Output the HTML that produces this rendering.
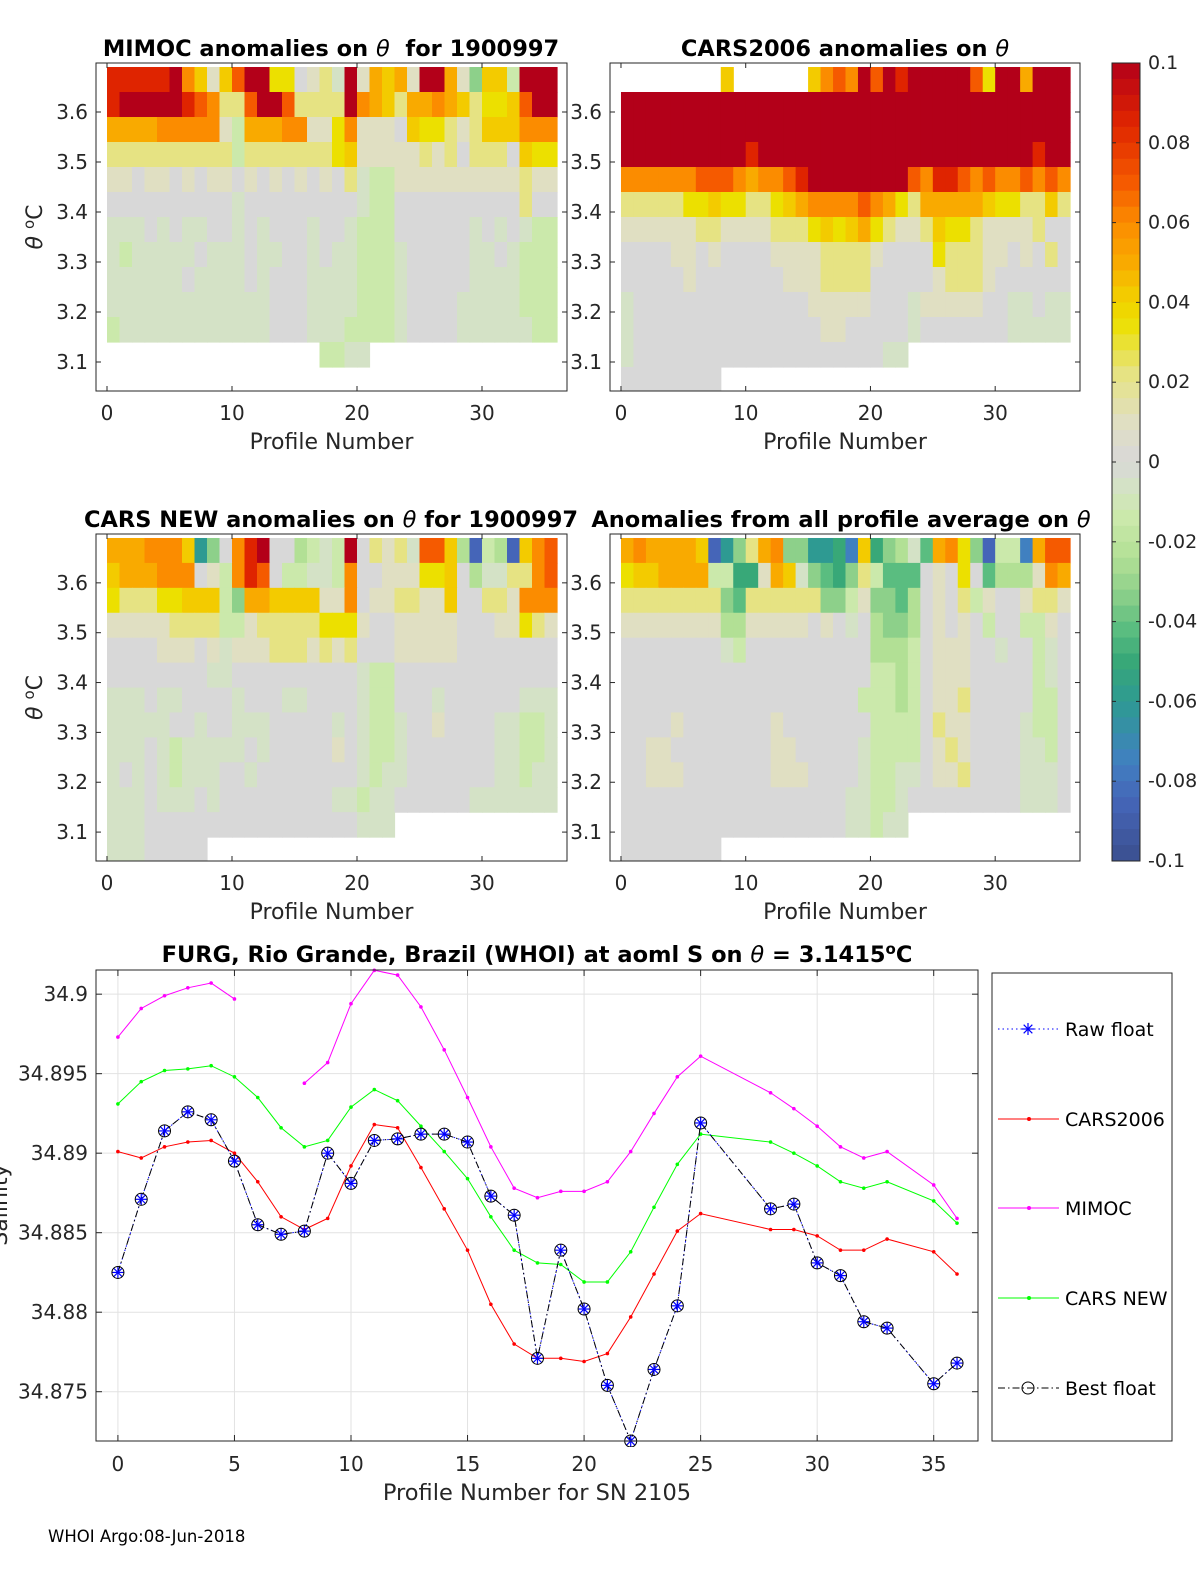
<!DOCTYPE html>
<html><head><meta charset="utf-8"><title>Float anomalies</title>
<style>
html,body{margin:0;padding:0;background:#fff;}
svg{display:block;font-family:"DejaVu Sans","Liberation Sans",sans-serif;}
</style></head>
<body>
<svg id="fig" xmlns="http://www.w3.org/2000/svg" width="1200" height="1575" viewBox="0 0 1200 1575">
<rect width="1200" height="1575" fill="#fff"/>
<g id="heat"></g>
<g id="bottom"></g>
<g id="cbar"></g>
<text x="48" y="1542" font-size="16.5">WHOI Argo:08-Jun-2018</text>
</svg>
<script>
// ---- level codes (anomaly value per letter) ----
const codeLetters = "ABCDEFGHIJKLMNOPQRS";
const codeValues = [0.1,0.085,0.07,0.06,0.05,0.042,0.035,0.022,0.01,0,-0.006,-0.014,-0.024,-0.033,-0.042,-0.05,-0.06,-0.075,-0.085];
// colormap stops
const cmapVals = [-0.1,-0.085,-0.075,-0.06,-0.05,-0.042,-0.033,-0.024,-0.014,-0.006,0,0.01,0.022,0.035,0.042,0.05,0.06,0.07,0.085,0.1];
const cmapCols = ["#3b4f8f","#4565b8","#4080c0","#2e9a92","#38a878","#5abd80","#8dd08a","#b2e095","#cbe9ab","#d4e2c6","#d8d8d8","#e0dfc2","#e6e383","#ece000","#f3cb00","#f9aa00","#fb8c00","#f55a00","#df2400","#b30019"];
const cbarTicks = [0.1,0.08,0.06,0.04,0.02,0,-0.02,-0.04,-0.06,-0.08,-0.1];
const cbarLabels = ["0.1","0.08","0.06","0.04","0.02","0","-0.02","-0.04","-0.06","-0.08","-0.1"];

// heatmap rows (top θ bin first, 36 profiles each; '.' = no data)
const mimocRows = [
"BBBBBADFIFCAAGGJIHKAIEFEIAAEINFFLAAA",
"BAAAAABCDHHCAACHHHHADEFHEEDEFHGGFCAA",
"EEEEDDDDDILEEEDDIIGDIIIJFGGHIHFFFDDD",
"HHHHHHHHHHLHHHHHHHGFIIIIIHIHJHHHJFGG",
"IIJIIJIJIIJIJIJIJIJHKLLIIIIIIIIIIHII",
"JJJJJJJJJJKJJJJJJJJJKLLJJJJJJJJJJHJJ",
"KKKJKJKKJJKJKJJJKJJKLLLJJJJJJKJKJKLL",
"KLKKKKKJKKKJKKJJKJKKLLLKJJJJJKKJKLLL",
"KKKKKKJKKKKJKJJJKKKKLLLKJJJJJKKKKLLL",
"KKKKKKKKKKKKKJJJKKKKLLLKJJJJKKKKKLLL",
"LKKKKKKKKKKKKJJJKKKLLLLKJJJJKKKKKKLL",
".................LLKK..............."
];
const cars2006Rows = [
"........F......FDCDACABAAAAACGAAEAAA",
"AAAAAAAAAAAAAAAAAAAAAAAAAAAAAAAAAAAA",
"AAAAAAAAAAAAAAAAAAAAAAAAAAAAAAAAAAAA",
"AAAAAAAAAABAAAAAAAAAAAAAAAAAAAAAABAA",
"DDDDDDCCCDEDDCBAAAAAAAACDBBCDCDDCDCD",
"HHHHHGGFGGHHGFEDDDDCDEGHEEEEEFGGHHFH",
"IIIIIIHHIIIIHHHGFGFEGHIIHFGGHIIIIHJJ",
"JJJJIIJIJJJJIIIIHHHHIJJJJGHHHIIJIJHJ",
"JJJJJIJJJJJJJIIIHHHHJJJJJIHHHIJJJJJJ",
"KJJJJJJJJJJJJJJIIIIIJJJKIIIIIJJKKJKK",
"KJJJJJJJJJJJJJJJIIJJJJJKJJJJJJJKKKKK",
"KJJJJJJJJJJJJJJJJJJJJKK.............",
"JJJJJJJJ............................"
];
const carsNewRows = [
"EEEDDDFQNJDBAJJMLKLAJHIHKCCFMSLMSFDC",
"FEEEDDDJILDBCJLLKKLDJJIIIGGFJMKKHHDC",
"GHHHGGFFFLNEEFFFFIIDJIIHHIIFJJHHIDDD",
"IIIIIHHHHLLIHHHHHGGGIJJIIIIIJJJIIGHI",
"JJJJIIIJIKIIIHHHIHIHJJJIIIIIJJJJJJJJ",
"JJJJJJJJKKJJJJJJJJJJKLLJJJJJJJJJJJJJ",
"KKKJKKJJJJKJJJKKJJJJKLLJJJKJJJJJJKKK",
"KKKKKJJKJJKKKJJJJJKJKLLKJJIJJJJKKLLK",
"KKKJKLKKKKKJKJJJJJIJKLLKJJJJJJJKKLLK",
"KJKJKLKKKJJKJJJJJJJJKLKKJJJJJJJKKLKK",
"KKKJKKKJKJJJJJJJJJKKLKKJJJJJJKKKKKKK",
"KKKJJJJJJJJJJJJJJJJJKKK.............",
"KKKJJJJJ............................"
];
const avgRows = [
"EDEEEEFSQNHEDNNQQPRFPNMKOEDGNSLLRECC",
"GFFEEEELLPPIEFKNOPNHLOOOJIJGJOMMMIDE",
"HHHHHHHHNOHHHHHHNNLINNOMJIJHLIJJIHHI",
"IIIIIIIIMMIIIIIJIJKJMNNMJIJIJLJJLLIJ",
"JJJJJJJJKLJJJJJJJJJJMMMLJIIIJJKJJLKJ",
"JJJJJJJJJJJJJJJJJJJJLLMLJIIIJJJJJLKJ",
"JJJJJJJJJJJJJJJJJJJLLLMLJIIHJJJJJLLJ",
"JJJJIJJJJJJJIJJJJJJJLLLLJHIIJJJJKLLJ",
"JJIIJJJJJJJJIIJJJJJKLLLLJIHIJJJJKKLJ",
"JJIIIJJJJJJJIIIJJJJKLLKKJIIHJJJJKKKJ",
"JJJJJJJJJJJJJJJJJJKKLLKJJJJJJJJJKKKJ",
"JJJJJJJJJJJJJJJJJJKKLKK.............",
"JJJJJJJJ............................"
];
const thetaTicks = [3.1,3.2,3.3,3.4,3.5,3.6];
const thetaTickLabels = ["3.1","3.2","3.3","3.4","3.5","3.6"];
const profTicks = [0,10,20,30];
const profTickLabels = ["0","10","20","30"];

// ---- bottom chart data ----
const profiles = [0,1,2,3,4,5,6,7,8,9,10,11,12,13,14,15,16,17,18,19,20,21,22,23,24,25,28,29,30,31,32,33,35,36];
const rawFloat = [34.8825,34.8871,34.8914,34.8926,34.8921,34.8895,34.8855,34.8849,34.8851,34.8900,34.8881,34.8908,34.8909,34.8912,34.8912,34.8907,34.8873,34.8861,34.8771,34.8839,34.8802,34.8754,34.8719,34.8764,34.8804,34.8919,34.8865,34.8868,34.8831,34.8823,34.8794,34.8790,34.8755,34.8768];
const bestFloat = [34.8825,34.8871,34.8914,34.8926,34.8921,34.8895,34.8855,34.8849,34.8851,34.8900,34.8881,34.8908,34.8909,34.8912,34.8912,34.8907,34.8873,34.8861,34.8771,34.8839,34.8802,34.8754,34.8719,34.8764,34.8804,34.8919,34.8865,34.8868,34.8831,34.8823,34.8794,34.8790,34.8755,34.8768];
const cars2006 = [34.8901,34.8897,34.8904,34.8907,34.8908,34.8900,34.8882,34.8860,34.8852,34.8859,34.8892,34.8918,34.8916,34.8891,34.8865,34.8839,34.8805,34.8780,34.8771,34.8771,34.8769,34.8774,34.8797,34.8824,34.8851,34.8862,34.8852,34.8852,34.8848,34.8839,34.8839,34.8846,34.8838,34.8824];
const mimoc = [34.8973,34.8991,34.8999,34.9004,34.9007,34.8997,null,null,34.8944,34.8957,34.8994,34.9015,34.9012,34.8992,34.8965,34.8935,34.8904,34.8878,34.8872,34.8876,34.8876,34.8882,34.8901,34.8925,34.8948,34.8961,34.8938,34.8928,34.8917,34.8904,34.8897,34.8901,34.8880,34.8859];
const carsNew = [34.8931,34.8945,34.8952,34.8953,34.8955,34.8948,34.8935,34.8916,34.8904,34.8908,34.8929,34.8940,34.8933,34.8917,34.8901,34.8884,34.8860,34.8839,34.8831,34.8830,34.8819,34.8819,34.8838,34.8866,34.8893,34.8912,34.8907,34.8900,34.8892,34.8882,34.8878,34.8882,34.8870,34.8856];
const salTicks = [34.875,34.88,34.885,34.89,34.895,34.9];
const salTickLabels = ["34.875","34.88","34.885","34.89","34.895","34.9"];
const profTicks2 = [0,5,10,15,20,25,30,35];
const profTickLabels2 = ["0","5","10","15","20","25","30","35"];

const NS = "http://www.w3.org/2000/svg";
function mk(tag, attrs, parent){const e=document.createElementNS(NS,tag);for(const k in attrs)e.setAttribute(k,attrs[k]);parent.appendChild(e);return e;}
function hex2rgb(h){return [parseInt(h.substr(1,2),16),parseInt(h.substr(3,2),16),parseInt(h.substr(5,2),16)];}
function cmap(v){
  if(v<=cmapVals[0])return cmapCols[0];
  for(let i=1;i<cmapVals.length;i++){
    if(v<=cmapVals[i]){const t=(v-cmapVals[i-1])/(cmapVals[i]-cmapVals[i-1]);const a=hex2rgb(cmapCols[i-1]),b=hex2rgb(cmapCols[i]);
      return "rgb("+a.map((c,j)=>Math.round(c+(b[j]-c)*t)).join(",")+")";}
  }
  return cmapCols[cmapCols.length-1];
}

const heat=document.getElementById('heat');
function heatPanel(name,rows,L,T,W,H,titleParts,titleX,yLabelSide){
  const g=mk('g',{},heat);
  
  
  const xmin=-0.88,xmax=36.8,ymin=3.042,ymax=3.698;
  const xs=p=>L+(p-xmin)/(xmax-xmin)*W;
  const ys=t=>T+(ymax-t)/(ymax-ymin)*H;
  const clip='clip-'+name;
  const cp=mk('clipPath',{id:clip},g);mk('rect',{x:L,y:T,width:W,height:H},cp);
  const cells=mk('g',{'clip-path':'url(#'+clip+')'},g);
  
  
  const thetaTop=3.69,step=0.05;
  rows.forEach((row,r)=>{
    for(let c=0;c<row.length;c++){
      const ch=row[c];if(ch==='.')continue;
      const v=codeValues[codeLetters.indexOf(ch)];
      const x0=xs(c),x1=xs(c+1),y0=ys(thetaTop-r*step),y1=ys(thetaTop-(r+1)*step);
      const rc=mk('rect',{x:x0.toFixed(2),y:y0.toFixed(2),width:(x1-x0+0.6).toFixed(2),height:(y1-y0+0.6).toFixed(2),fill:cmap(v)},cells);
      
      
    }
  });
  const fr=mk('rect',{x:L,y:T,width:W,height:H,fill:'none',stroke:'#262626','stroke-width':1},g);
  
  
  profTicks.forEach((p,i)=>{
    const x=xs(p);
    mk('line',{x1:x,y1:T+H,x2:x,y2:T+H-5,stroke:'#262626'},g);
    mk('line',{x1:x,y1:T,x2:x,y2:T+5,stroke:'#262626'},g);
    const t=mk('text',{x:x,y:T+H+29,'font-size':20,'text-anchor':'middle',fill:'#262626'},g);
    t.textContent=profTickLabels[i];
    
    
  });
  thetaTicks.forEach((v,i)=>{
    const y=ys(v);
    mk('line',{x1:L,y1:y,x2:L+5,y2:y,stroke:'#262626'},g);
    mk('line',{x1:L+W,y1:y,x2:L+W-5,y2:y,stroke:'#262626'},g);
    const t=mk('text',{x:L-8,y:y+7,'font-size':20,'text-anchor':'end',fill:'#262626'},g);
    t.textContent=thetaTickLabels[i];
    
    
  });
  const xl=mk('text',{x:L+W/2,y:T+H+58,'font-size':22,'text-anchor':'middle',fill:'#262626'},g);
  xl.textContent='Profile Number';
  
  
  const tt=mk('text',{x:titleX,y:T-7,'font-size':22.5,'font-weight':'bold','text-anchor':'middle',fill:'#000'},g);
  tt.setAttribute('xml:space','preserve');
  
  
  titleParts.forEach(pt=>{const s=mk('tspan',pt[1]?{'font-style':'italic','font-weight':'normal'}:{},tt);s.textContent=pt[0];});
  if(yLabelSide==='left'){
    const yl=mk('text',{x:0,y:0,'font-size':22,'text-anchor':'middle',fill:'#262626',transform:'translate(42,'+(T+H/2)+') rotate(-90)'},g);
    
    
    const a=mk('tspan',{'font-style':'italic'},yl);a.textContent='θ ';
    const b=mk('tspan',{'font-size':15,dy:-8},yl);b.textContent='o';
    const c2=mk('tspan',{dy:8},yl);c2.textContent='C';
  }
}
heatPanel('mimoc-panel',mimocRows,96,63,471,328,[['MIMOC anomalies on '],['θ',1],['\u00a0\u00a0for 1900997']],331,'left');
heatPanel('cars2006-panel',cars2006Rows,610,63,470,328,[['CARS2006 anomalies on '],['θ',1]],845,'right');
heatPanel('carsnew-panel',carsNewRows,96,534,471,327,[['CARS NEW anomalies on '],['θ',1],[' for 1900997']],331,'left');
heatPanel('average-panel',avgRows,610,534,470,327,[['Anomalies from all profile average on '],['θ',1]],841,'right');

// ---- colorbar ----
const cb=document.getElementById('cbar');
(function(){
  const L=1112,T=63,W=28,H=798,vmin=-0.1,vmax=0.1;
  const ys=v=>T+(vmax-v)/(vmax-vmin)*H;
  const g=mk('g',{},cb);
  
  
  const n=50;
  for(let i=0;i<n;i++){
    const v0=vmax-(i)*(vmax-vmin)/n,v1=vmax-(i+1)*(vmax-vmin)/n;
    mk('rect',{x:L,y:ys(v0),width:W,height:ys(v1)-ys(v0)+0.5,fill:cmap((v0+v1)/2)},g);
  }
  mk('rect',{x:L,y:T,width:W,height:H,fill:'none',stroke:'#262626'},g);
  cbarTicks.forEach((v,i)=>{
    const y=ys(v);
    mk('line',{x1:L,y1:y,x2:L+4,y2:y,stroke:'#262626'},g);
    mk('line',{x1:L+W,y1:y,x2:L+W-4,y2:y,stroke:'#262626'},g);
    const t=mk('text',{x:L+36,y:y+6,'font-size':19,fill:'#262626'},g);
    t.textContent=cbarLabels[i];
    
    
  });
})();

// ---- bottom line chart ----
const bt=document.getElementById('bottom');
(function(){
  const L=96,T=970,W=882,H=471,xmin=-0.94,xmax=36.9,ymin=34.8719,ymax=34.90152;
  const xs=p=>L+(p-xmin)/(xmax-xmin)*W;
  const ys=v=>T+(ymax-v)/(ymax-ymin)*H;
  const g=mk('g',{},bt);
  
  
  const grid=mk('g',{stroke:'#e2e2e2','stroke-width':1},g);
  profTicks2.forEach(p=>mk('line',{x1:xs(p),y1:T,x2:xs(p),y2:T+H},grid));
  salTicks.forEach(v=>mk('line',{x1:L,y1:ys(v),x2:L+W,y2:ys(v)},grid));
  const cp=mk('clipPath',{id:'clip-bottom'},g);mk('rect',{x:L,y:T-6,width:W,height:H+12},cp);
  const plot=mk('g',{'clip-path':'url(#clip-bottom)'},g);
  function series(name,vals,color,dash,width){
    let d='',pen=false;
    vals.forEach((v,i)=>{
      if(v===null){pen=false;return;}
      d+=(pen?'L':'M')+xs(profiles[i]).toFixed(2)+' '+ys(v).toFixed(2);pen=true;
    });
    const p=mk('path',{d:d,fill:'none',stroke:color,'stroke-width':width||1},plot);
    if(dash)p.setAttribute('stroke-dasharray',dash);
    
    
    return p;
  }
  function dots(name,vals,color){
    vals.forEach((v,i)=>{ if(v===null)return;
      const c=mk('circle',{cx:xs(profiles[i]),cy:ys(v),r:1.8,fill:color},plot);
      
      
    });
  }
  series('mimoc',mimoc,'#ff00ff');dots('mimoc',mimoc,'#ff00ff');
  series('cars-new',carsNew,'#00ff00');dots('cars-new',carsNew,'#00ff00');
  series('cars2006',cars2006,'#ff0000');dots('cars2006',cars2006,'#ff0000');
  series('raw-float',rawFloat,'#0000ff','1.5 3');
  series('best-float',bestFloat,'#000','7 3 1.5 3');
  function star(x,y,s,color,parent){
    const gg=mk('g',{stroke:color,'stroke-width':1.2},parent);
    mk('line',{x1:x-s,y1:y,x2:x+s,y2:y},gg);mk('line',{x1:x,y1:y-s,x2:x,y2:y+s},gg);
    const q=s*0.72;mk('line',{x1:x-q,y1:y-q,x2:x+q,y2:y+q},gg);mk('line',{x1:x-q,y1:y+q,x2:x+q,y2:y-q},gg);
    return gg;
  }
  rawFloat.forEach((v,i)=>{const s=star(xs(profiles[i]),ys(v),6,'#0000ff',plot);
    
    });
  bestFloat.forEach((v,i)=>{const c=mk('circle',{cx:xs(profiles[i]),cy:ys(v),r:6,fill:'none',stroke:'#000','stroke-width':1},plot);
    
    });
  mk('rect',{x:L,y:T,width:W,height:H,fill:'none',stroke:'#262626'},g);
  profTicks2.forEach((p,i)=>{const x=xs(p);
    mk('line',{x1:x,y1:T+H,x2:x,y2:T+H-6,stroke:'#262626'},g);
    mk('line',{x1:x,y1:T,x2:x,y2:T+6,stroke:'#262626'},g);
    const t=mk('text',{x:x,y:T+H+30,'font-size':20,'text-anchor':'middle',fill:'#262626'},g);
    t.textContent=profTickLabels2[i];
    
    });
  salTicks.forEach((v,i)=>{const y=ys(v);
    mk('line',{x1:L,y1:y,x2:L+6,y2:y,stroke:'#262626'},g);
    mk('line',{x1:L+W,y1:y,x2:L+W-6,y2:y,stroke:'#262626'},g);
    const t=mk('text',{x:L-8,y:y+7,'font-size':20,'text-anchor':'end',fill:'#262626'},g);
    t.textContent=salTickLabels[i];
    
    });
  const xl=mk('text',{x:537,y:1500,'font-size':22.5,'text-anchor':'middle',fill:'#262626'},g);
  xl.textContent='Profile Number for SN 2105';
  
  
  const yl=mk('text',{x:0,y:0,'font-size':22,'text-anchor':'middle',fill:'#262626',transform:'translate(7,1205) rotate(-90)'},g);
  yl.textContent='Salinity';
  
  
  const tt=mk('text',{x:537,y:962,'font-size':22.5,'font-weight':'bold','text-anchor':'middle',fill:'#000'},g);
  
  
  [['FURG, Rio Grande, Brazil (WHOI) at aoml S on ',0],['θ',1],[' = 3.1415',0]].forEach(pt=>{const s=mk('tspan',pt[1]?{'font-style':'italic','font-weight':'normal'}:{},tt);s.textContent=pt[0];});
  const so=mk('tspan',{'font-size':15,dy:-8},tt);so.textContent='o';
  const sc=mk('tspan',{dy:8},tt);sc.textContent='C';

  // legend
  const lg=mk('g',{},g);
  
  
  mk('rect',{x:992,y:973,width:180,height:468,fill:'#fff',stroke:'#262626'},lg);
  const entries=[['Raw float','#0000ff','1.5 3','star',1029],['CARS2006','#ff0000',null,'dot',1119],['MIMOC','#ff00ff',null,'dot',1208],['CARS NEW','#00ff00',null,'dot',1298],['Best float','#000','7 3 1.5 3','circle',1388]];
  entries.forEach(e=>{
    const eg=mk('g',{},lg);
    
    
    const y=e[4];
    const ln=mk('line',{x1:998,y1:y,x2:1059,y2:y,stroke:e[1],'stroke-width':1},eg);
    if(e[2])ln.setAttribute('stroke-dasharray',e[2]);
    if(e[3]==='star')star(1028,y,6,e[1],eg);
    else if(e[3]==='dot')mk('circle',{cx:1029,cy:y,r:2,fill:e[1]},eg);
    else mk('circle',{cx:1028,cy:y,r:6,fill:'none',stroke:'#000'},eg);
    const t=mk('text',{x:1065,y:y+7,'font-size':19,fill:'#000'},eg);
    t.textContent=e[0];
  });
})();
</script>
</body></html>
